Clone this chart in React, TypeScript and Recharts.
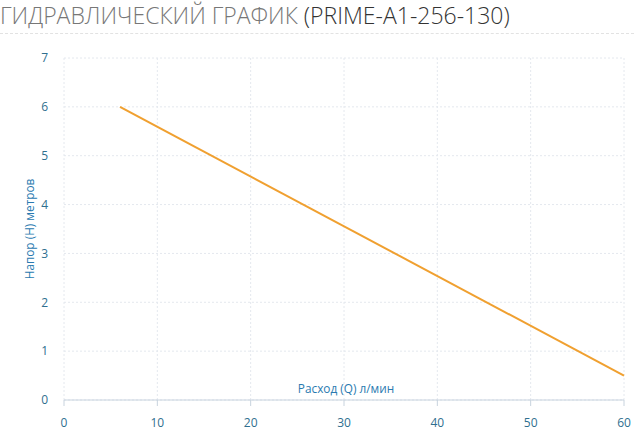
import { LineChart, Line, XAxis, YAxis, CartesianGrid } from 'recharts';

const flowRate = [6, 60];
const headMeters = [6, 0.5];
const xTicks = [0, 10, 20, 30, 40, 50, 60];
const yTicks = [0, 1, 2, 3, 4, 5, 6, 7];

const titleMain = 'ГИДРАВЛИЧЕСКИЙ ГРАФИК';
const titleModel = '(PRIME-A1-256-130)';
const xLabel = 'Расход (Q) л/мин';
const yLabel = 'Напор (H) метров';

const data = flowRate.map((q, i) => ({ q, h: headMeters[i] }));

const tickStyle = { fill: '#2f6f8f', fontSize: 12, fontFamily: 'Open Sans' };

export default function App() {
  return (
    <div style={{ position: 'absolute', left: 0, top: 0, width: 634, height: 440, background: '#fff', fontFamily: 'Open Sans' }}>
      <div style={{ position: 'absolute', left: 0, top: 0, fontSize: 23, lineHeight: '30px', whiteSpace: 'nowrap', fontWeight: 300 }}>
        <span style={{ color: '#777' }}>{titleMain} </span>
        <span style={{ color: '#333' }}>{titleModel}</span>
      </div>
      <div style={{ position: 'absolute', left: 0, top: 33, width: 634, borderTop: '1px dashed #e2e2e2' }} />
      <LineChart
        width={634}
        height={440}
        data={data}
        margin={{ top: 58, right: 10, bottom: 0, left: 0 }}
        style={{ position: 'absolute', left: 0, top: 0 }}
      >
        <CartesianGrid stroke="#e4e8ee" strokeDasharray="2 2" />
        <XAxis
          dataKey="q"
          type="number"
          domain={[0, 60]}
          ticks={xTicks}
          height={40}
          stroke="#c8d3de"
          tickSize={6}
          tickMargin={12}
          tick={tickStyle}
          label={{ value: xLabel, position: 'top', offset: 7, dx: 2, fill: '#2a7ab0', fontSize: 11.8, fontFamily: 'Open Sans' }}
        />
        <YAxis
          type="number"
          domain={[0, 7]}
          ticks={yTicks}
          width={64}
          axisLine={false}
          tickLine={false}
          tickSize={6}
          tickMargin={10}
          tick={tickStyle}
          label={{ value: yLabel, angle: -90, position: 'center', dx: -2, fill: '#2a7ab0', fontSize: 11.8, fontFamily: 'Open Sans' }}
        />
        <Line
          type="linear"
          dataKey="h"
          stroke="#f0a030"
          strokeWidth={2}
          dot={false}
          isAnimationActive={false}
        />
      </LineChart>
    </div>
  );
}
